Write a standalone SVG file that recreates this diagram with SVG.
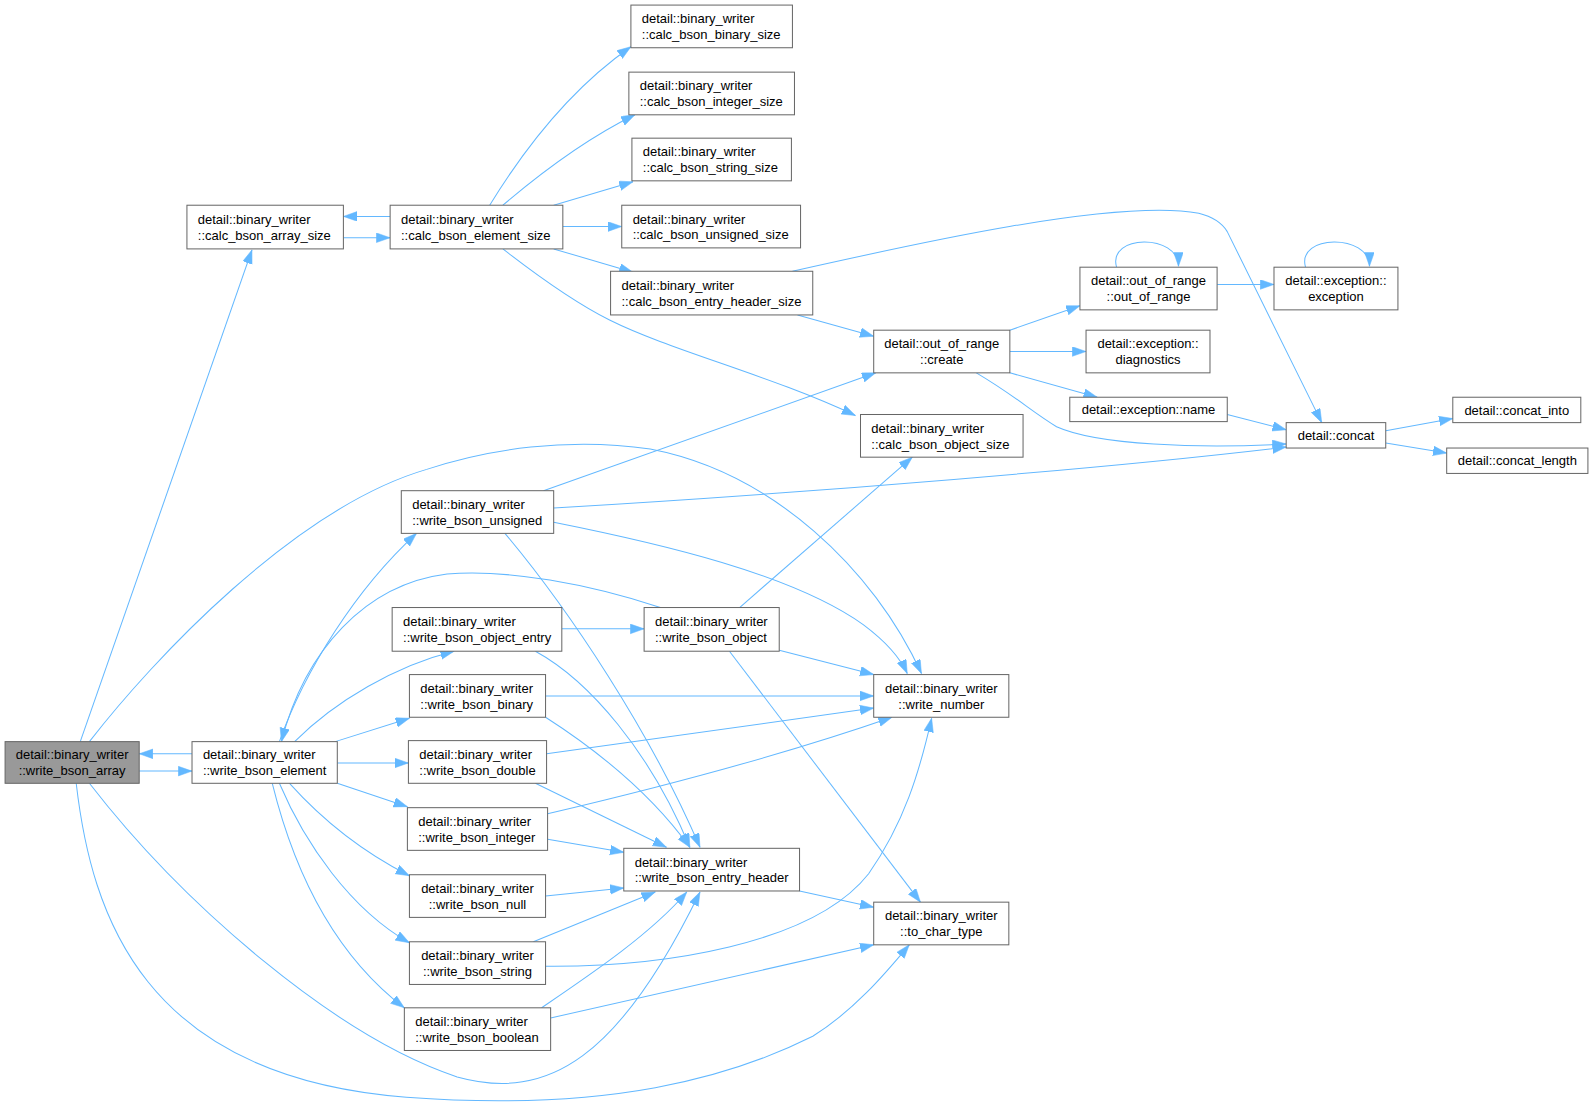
<svg xmlns="http://www.w3.org/2000/svg" width="1593" height="1106" viewBox="0 0 1593 1106">
<defs>
<style>
.n rect{fill:#ffffff;stroke:#666666;stroke-width:1}
.n.root rect{fill:#999999}
.n text{font-family:"Liberation Sans",Arial,Helvetica,sans-serif;font-size:12.8px;fill:#000000}
.c{text-anchor:middle}
.l{text-anchor:start}
#edges path{fill:none;stroke:#63b8ff;stroke-width:1;marker-end:url(#arr)}
</style>
<marker id="arr" markerUnits="userSpaceOnUse" markerWidth="15" markerHeight="11" refX="13.5" refY="4.75" orient="auto">
<path d="M0,0 L13.5,4.75 L0,9.5 Z" fill="#63b8ff" stroke="#63b8ff" stroke-width="0.5"/>
</marker>
</defs>
<rect width="1593" height="1106" fill="#ffffff"/>
<g transform="scale(1.01594)">
<g id="edges">
<path d="M79,730 L248,246"/>
<path d="M137,759 L189,759"/>
<path d="M189,742 L137,742"/>
<path d="M338,234 L384,234"/>
<path d="M384,213 L338,213"/>
<path d="M482,202 C520,140 565,85 621,46"/>
<path d="M495,202 C535,168 580,135 625,113"/>
<path d="M545,202 L623,179"/>
<path d="M554,223 L612,223"/>
<path d="M545,245 L623,268"/>
<path d="M495,245 C540,280 570,300 600,315 C660,345 760,370 842,409"/>
<path d="M780,267 C900,240 1100,195 1180,210 Q1200,215 1208,228 L1301,416"/>
<path d="M785,310 L860,331"/>
<path d="M994,325 L1063,301"/>
<path d="M994,346 L1069,346"/>
<path d="M994,367 L1080,391"/>
<path d="M961,367 C1000,390 1015,405 1040,420 C1080,438 1180,442 1266,437"/>
<path d="M1208,408 L1266,423"/>
<path d="M1099,263 C1090,230 1160,230 1160,262"/>
<path d="M1198,280 L1254,280"/>
<path d="M1285,263 C1276,230 1348,230 1348,262"/>
<path d="M1364,424 L1430,412"/>
<path d="M1364,436 L1424,446"/>
<path d="M535,483 L862,367"/>
<path d="M545,500 C800,485 1100,460 1266,440"/>
<path d="M545,514 C650,535 780,565 850,615 C870,630 885,645 893,663"/>
<path d="M497,525 C560,600 640,720 689,834"/>
<path d="M88,730 C150,650 290,500 420,462 C480,442 560,430 640,442 C760,465 860,560 907,663"/>
<path d="M275,730 C300,660 350,580 410,525"/>
<path d="M650,598 C580,575 500,560 440,565 C360,575 300,640 277,730"/>
<path d="M290,730 C330,690 390,655 447,641"/>
<path d="M330,730 L403,707"/>
<path d="M332,751 L402,751"/>
<path d="M332,771 L401,794"/>
<path d="M285,771 C320,810 360,840 403,862"/>
<path d="M275,771 C300,830 345,895 403,928"/>
<path d="M268,771 C290,860 330,940 398,992"/>
<path d="M553,619 L634,619"/>
<path d="M527,641 C580,670 640,740 679,834"/>
<path d="M767,640 L860,664"/>
<path d="M728,598 L898,450"/>
<path d="M718,641 L906,888"/>
<path d="M537,685 L860,685"/>
<path d="M537,706 C590,740 640,780 679,834"/>
<path d="M538,742 L860,697"/>
<path d="M527,771 L656,834"/>
<path d="M539,801 C650,775 780,740 878,706"/>
<path d="M539,826 L614,839"/>
<path d="M537,882 L614,874"/>
<path d="M525,927 L645,878"/>
<path d="M537,951 C650,952 800,930 855,860 C890,810 905,760 917,707"/>
<path d="M533,992 C580,960 640,920 676,878"/>
<path d="M542,1002 L860,930"/>
<path d="M787,877 L860,893"/>
<path d="M88,771 C180,890 330,1020 450,1060 C540,1085 610,1040 689,878"/>
<path d="M75,771 C90,900 140,1060 400,1080 C600,1095 720,1060 800,1020 C840,995 870,960 895,930"/>
</g>

<g id="n_write_bson_array" class="n root"><rect x="5" y="730" width="132" height="41"/><text class="c" x="71" y="747.5">detail::binary_writer</text><text class="c" x="71" y="763">::write_bson_array</text></g>
<g id="n_write_bson_element" class="n"><rect x="189" y="730" width="143" height="41"/><text class="l" x="199.7" y="747.5">detail::binary_writer</text><text class="l" x="199.7" y="763">::write_bson_element</text></g>
<g id="n_calc_bson_array_size" class="n"><rect x="184" y="202" width="154" height="43"/><text class="l" x="194.7" y="220.5">detail::binary_writer</text><text class="l" x="194.7" y="236">::calc_bson_array_size</text></g>
<g id="n_calc_bson_element_size" class="n"><rect x="384" y="202" width="170" height="43"/><text class="l" x="394.7" y="220.5">detail::binary_writer</text><text class="l" x="394.7" y="236">::calc_bson_element_size</text></g>
<g id="n_calc_bson_binary_size" class="n"><rect x="621" y="5" width="159" height="42"/><text class="l" x="631.7" y="23">detail::binary_writer</text><text class="l" x="631.7" y="38.5">::calc_bson_binary_size</text></g>
<g id="n_calc_bson_integer_size" class="n"><rect x="619" y="71" width="163" height="42"/><text class="l" x="629.7" y="89">detail::binary_writer</text><text class="l" x="629.7" y="104.5">::calc_bson_integer_size</text></g>
<g id="n_calc_bson_string_size" class="n"><rect x="622" y="136" width="157" height="42"/><text class="l" x="632.7" y="154">detail::binary_writer</text><text class="l" x="632.7" y="169.5">::calc_bson_string_size</text></g>
<g id="n_calc_bson_unsigned_size" class="n"><rect x="612" y="202" width="176" height="42"/><text class="l" x="622.7" y="220">detail::binary_writer</text><text class="l" x="622.7" y="235.5">::calc_bson_unsigned_size</text></g>
<g id="n_calc_bson_entry_header_size" class="n"><rect x="601" y="267" width="199" height="43"/><text class="l" x="611.7" y="285.5">detail::binary_writer</text><text class="l" x="611.7" y="301">::calc_bson_entry_header_size</text></g>
<g id="n_out_of_range_create" class="n"><rect x="860" y="325" width="134" height="42"/><text class="c" x="927" y="343">detail::out_of_range</text><text class="c" x="927" y="358.5">::create</text></g>
<g id="n_calc_bson_object_size" class="n"><rect x="847" y="408" width="160" height="42"/><text class="l" x="857.7" y="426">detail::binary_writer</text><text class="l" x="857.7" y="441.5">::calc_bson_object_size</text></g>
<g id="n_write_bson_unsigned" class="n"><rect x="395" y="483" width="150" height="42"/><text class="l" x="405.7" y="501">detail::binary_writer</text><text class="l" x="405.7" y="516.5">::write_bson_unsigned</text></g>
<g id="n_write_bson_object_entry" class="n"><rect x="386" y="598" width="167" height="43"/><text class="l" x="396.7" y="616.5">detail::binary_writer</text><text class="l" x="396.7" y="632">::write_bson_object_entry</text></g>
<g id="n_write_bson_object" class="n"><rect x="634" y="598" width="133" height="43"/><text class="l" x="644.7" y="616.5">detail::binary_writer</text><text class="l" x="644.7" y="632">::write_bson_object</text></g>
<g id="n_write_bson_binary" class="n"><rect x="403" y="664" width="134" height="42"/><text class="l" x="413.7" y="682">detail::binary_writer</text><text class="l" x="413.7" y="697.5">::write_bson_binary</text></g>
<g id="n_write_bson_double" class="n"><rect x="402" y="729" width="136" height="42"/><text class="l" x="412.7" y="747">detail::binary_writer</text><text class="l" x="412.7" y="762.5">::write_bson_double</text></g>
<g id="n_write_bson_integer" class="n"><rect x="401" y="795" width="138" height="42"/><text class="l" x="411.7" y="813">detail::binary_writer</text><text class="l" x="411.7" y="828.5">::write_bson_integer</text></g>
<g id="n_write_bson_null" class="n"><rect x="403" y="861" width="134" height="42"/><text class="c" x="470" y="879">detail::binary_writer</text><text class="c" x="470" y="894.5">::write_bson_null</text></g>
<g id="n_write_bson_string" class="n"><rect x="403" y="927" width="134" height="42"/><text class="c" x="470" y="945">detail::binary_writer</text><text class="c" x="470" y="960.5">::write_bson_string</text></g>
<g id="n_write_bson_boolean" class="n"><rect x="398" y="992" width="144" height="42"/><text class="l" x="408.7" y="1010">detail::binary_writer</text><text class="l" x="408.7" y="1025.5">::write_bson_boolean</text></g>
<g id="n_write_bson_entry_header" class="n"><rect x="614" y="835" width="173" height="42"/><text class="l" x="624.7" y="853">detail::binary_writer</text><text class="l" x="624.7" y="868.5">::write_bson_entry_header</text></g>
<g id="n_write_number" class="n"><rect x="860" y="664" width="133" height="42"/><text class="c" x="926.5" y="682">detail::binary_writer</text><text class="c" x="926.5" y="697.5">::write_number</text></g>
<g id="n_to_char_type" class="n"><rect x="860" y="888" width="133" height="42"/><text class="c" x="926.5" y="906">detail::binary_writer</text><text class="c" x="926.5" y="921.5">::to_char_type</text></g>
<g id="n_out_of_range_ctor" class="n"><rect x="1063" y="263" width="135" height="42"/><text class="c" x="1130.5" y="281">detail::out_of_range</text><text class="c" x="1130.5" y="296.5">::out_of_range</text></g>
<g id="n_exception_ctor" class="n"><rect x="1254" y="263" width="122" height="42"/><text class="c" x="1315" y="281">detail::exception::</text><text class="c" x="1315" y="296.5">exception</text></g>
<g id="n_exception_diagnostics" class="n"><rect x="1069" y="325" width="122" height="42"/><text class="c" x="1130" y="343">detail::exception::</text><text class="c" x="1130" y="358.5">diagnostics</text></g>
<g id="n_exception_name" class="n"><rect x="1053" y="391" width="155" height="24"/><text class="c" x="1130.5" y="407.5">detail::exception::name</text></g>
<g id="n_concat" class="n"><rect x="1266" y="416" width="98" height="25"/><text class="c" x="1315" y="433">detail::concat</text></g>
<g id="n_concat_into" class="n"><rect x="1430" y="391" width="126" height="25"/><text class="c" x="1493" y="408">detail::concat_into</text></g>
<g id="n_concat_length" class="n"><rect x="1424" y="441" width="139" height="25"/><text class="c" x="1493.5" y="458">detail::concat_length</text></g>
</g>
</svg>
